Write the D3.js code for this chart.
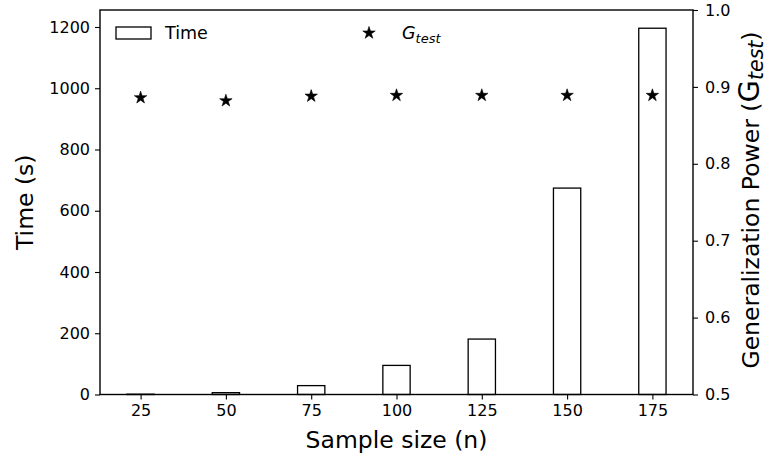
<!DOCTYPE html>
<html>
<head>
<meta charset="utf-8">
<script src="https://cdn.jsdelivr.net/npm/d3@7"></script>
<style>
  body { margin: 0; background: #fff; }
  svg { display: block; font-family: "DejaVu Sans", sans-serif; }
</style>
</head>
<body>
<svg width="767" height="459"></svg>
<script>
const SAMPLE_SIZES = [25, 50, 75, 100, 125, 150, 175];
const TIMES = [1, 6, 29, 95, 181, 674, 1196];
const G_TEST = [0.886, 0.882, 0.888, 0.889, 0.889, 0.889, 0.889];
const TIME_TICKS = [0, 200, 400, 600, 800, 1000, 1200];
const G_TICKS = [0.5, 0.6, 0.7, 0.8, 0.9, 1.0];

const CHART = { left: 100, right: 693, top: 10, bottom: 394.5 };
const BAR_WIDTH = 8;

function main() {
  const svg = d3.select("svg");

  const x = d3
    .scaleLinear()
    .domain([13.1, 186.9])
    .range([CHART.left, CHART.right]);
  const yTime = d3
    .scaleLinear()
    .domain([0, 1255.5])
    .range([CHART.bottom, CHART.top]);
  const yG = d3
    .scaleLinear()
    .domain([0.5, 1.0])
    .range([CHART.bottom, CHART.top]);

  // bars
  svg
    .append("g")
    .selectAll("rect")
    .data(SAMPLE_SIZES)
    .enter()
    .append("rect")
    .attr("x", (d) => x(d - BAR_WIDTH / 2))
    .attr("width", (d) => x(d + BAR_WIDTH / 2) - x(d - BAR_WIDTH / 2))
    .attr("y", (d, i) => yTime(TIMES[i]))
    .attr("height", (d, i) => CHART.bottom - yTime(TIMES[i]))
    .attr("fill", "#fff")
    .attr("stroke", "#000")
    .attr("stroke-width", 1.3);

  // stars
  const star = d3.symbol().type(d3.symbolStar).size(48);
  svg
    .append("g")
    .selectAll("path")
    .data(SAMPLE_SIZES)
    .enter()
    .append("path")
    .attr("d", star)
    .attr("transform", (d, i) => `translate(${x(d)},${yG(G_TEST[i])})`)
    .attr("fill", "#000")
    .attr("stroke", "#000")
    .attr("stroke-width", 0.6);

  // axes
  const bottomAxis = svg
    .append("g")
    .attr("transform", `translate(0,${CHART.bottom})`)
    .call(d3.axisBottom(x).tickValues(SAMPLE_SIZES).tickSize(5).tickPadding(5));
  const leftAxis = svg
    .append("g")
    .attr("transform", `translate(${CHART.left},0)`)
    .call(
      d3
        .axisLeft(yTime)
        .tickValues(TIME_TICKS)
        .tickFormat(d3.format("d"))
        .tickSize(5)
        .tickPadding(5)
    );
  const rightAxis = svg
    .append("g")
    .attr("transform", `translate(${CHART.right},0)`)
    .call(
      d3
        .axisRight(yG)
        .tickValues(G_TICKS)
        .tickFormat(d3.format(".1f"))
        .tickSize(5)
        .tickPadding(7)
    );

  [bottomAxis, leftAxis, rightAxis].forEach((a) => {
    a.attr("font-size", 16).attr("font-family", "DejaVu Sans, sans-serif");
    a.select(".domain").remove();
    a.selectAll("line").attr("stroke", "#000").attr("stroke-width", 1.1);
    a.selectAll("text").attr("fill", "#000");
  });

  // frame
  svg
    .append("rect")
    .attr("x", CHART.left)
    .attr("y", CHART.top)
    .attr("width", CHART.right - CHART.left)
    .attr("height", CHART.bottom - CHART.top)
    .attr("fill", "none")
    .attr("stroke", "#000")
    .attr("stroke-width", 1.4);

  // axis labels
  svg
    .append("text")
    .attr("x", (CHART.left + CHART.right) / 2)
    .attr("y", 448)
    .attr("text-anchor", "middle")
    .attr("font-size", 23.5)
    .text("Sample size (n)");

  svg
    .append("text")
    .attr("transform", `translate(33,${(CHART.top + CHART.bottom) / 2}) rotate(-90)`)
    .attr("text-anchor", "middle")
    .attr("font-size", 23.5)
    .text("Time (s)");

  const rLabel = svg
    .append("text")
    .attr("transform", "translate(759,200) rotate(-90)")
    .attr("text-anchor", "middle")
    .attr("font-size", 23.5);
  rLabel.append("tspan").text("Generalization Power (");
  rLabel.append("tspan").attr("font-size", 29).text("G");
  rLabel
    .append("tspan")
    .attr("font-size", 20.5)
    .attr("font-style", "italic")
    .attr("dy", 4)
    .text("test");
  rLabel.append("tspan").attr("dy", -4).text(")");

  // legend
  const legend = svg.append("g");
  legend
    .append("rect")
    .attr("x", 116)
    .attr("y", 27)
    .attr("width", 35)
    .attr("height", 12)
    .attr("fill", "#fff")
    .attr("stroke", "#000")
    .attr("stroke-width", 1.3);
  legend
    .append("text")
    .attr("x", 165)
    .attr("y", 39)
    .attr("font-size", 17.5)
    .text("Time");
  legend
    .append("path")
    .attr("d", star)
    .attr("transform", "translate(369,33)")
    .attr("fill", "#000")
    .attr("stroke", "#000")
    .attr("stroke-width", 0.6);
  const gText = legend
    .append("text")
    .attr("x", 402)
    .attr("y", 39)
    .attr("font-size", 17.5)
    .attr("font-style", "italic");
  gText.append("tspan").text("G");
  gText.append("tspan").attr("font-size", 13).attr("dy", 4).text("test");
}

main();
</script>
</body>
</html>
